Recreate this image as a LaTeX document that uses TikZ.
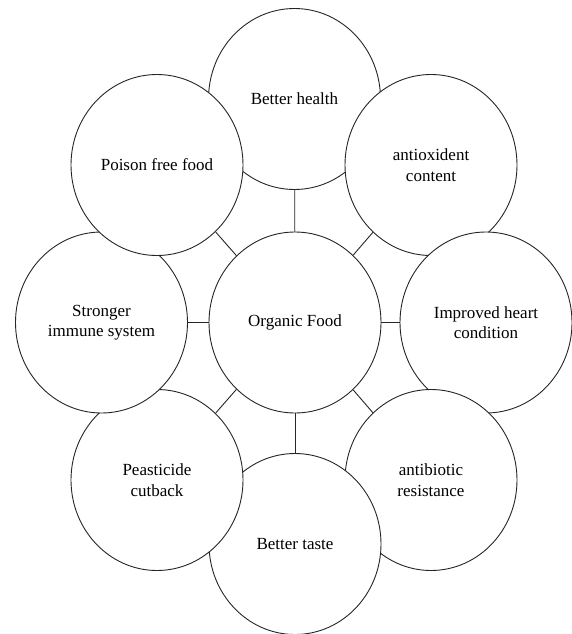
\documentclass[tikz,border=0pt]{standalone}
\usepackage{fontspec}
\setmainfont{Liberation Serif}
\usetikzlibrary{shapes.geometric}
\tikzset{
  bubble/.style={ellipse, draw=black!85, line width=0.9pt, fill=white,
    minimum width=172pt, minimum height=181pt, inner sep=0pt,
    align=center, font=\rmfamily\fontsize{17}{20.5}\selectfont},
  link/.style={draw=black!85, line width=0.9pt}
}
\begin{document}
\begin{tikzpicture}[x=1pt,y=-1pt]
\useasboundingbox (0,0) rectangle (572,634);
% bottom to top order
\node[bubble] (bh) at (294.5,99) {Better health};
\node[bubble] (ao) at (431,165) {antioxident\\content};
\node[bubble] (ih) at (486,322.5) {Improved heart\\condition};
\node[bubble] (ar) at (431,480) {antibiotic\\resistance};
\node[bubble] (bt) at (295,544) {Better taste};
\node[bubble] (pc) at (157,480) {Peasticide\\cutback};
\node[bubble] (si) at (101.5,322.5) {Stronger\\immune system};
\node[bubble] (pf) at (157,165) {Poison free food};
\node[bubble] (of) at (295,322.5) {Organic Food};
\foreach \n in {bh,ao,ih,ar,bt,pc,si,pf}
  \draw[link] (of) -- (\n);
\end{tikzpicture}
\end{document}
